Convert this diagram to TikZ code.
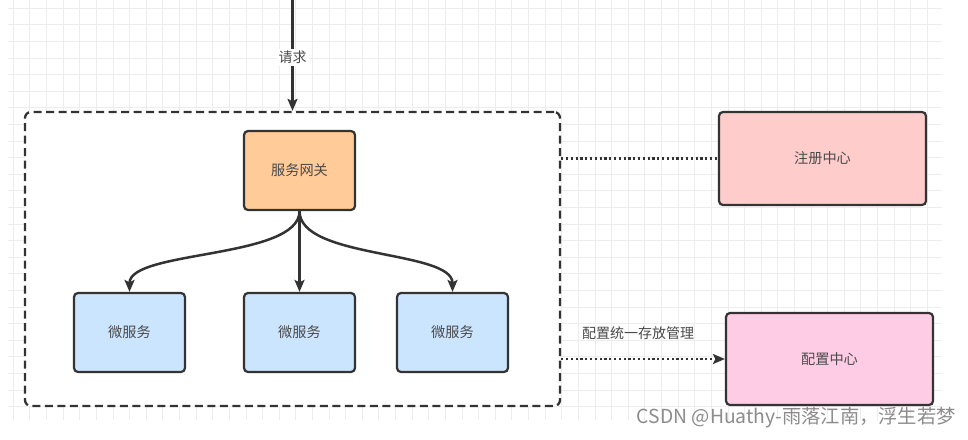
\documentclass[tikz,border=0pt]{standalone}
\usepackage{fontspec}
\setmainfont{Noto Sans CJK SC}
\usetikzlibrary{arrows.meta}
\definecolor{gridc}{HTML}{EDEDED}
\definecolor{edgec}{HTML}{333333}
\definecolor{txtc}{HTML}{4A4A4A}
\definecolor{gwfill}{HTML}{FFCC99}
\definecolor{msfill}{HTML}{CCE5FF}
\definecolor{regfill}{HTML}{FFCCCC}
\definecolor{cfgfill}{HTML}{FFCCE6}
\definecolor{wmc}{HTML}{8C8C8C}
\begin{document}
\begin{tikzpicture}[x=1pt,y=-1pt,
  box/.style={draw=edgec,line width=2.2pt,rounded corners=4pt,inner sep=0pt,
    text=txtc,font=\fontsize{14.2}{16}\selectfont},
  gwbox/.style={box,fill=gwfill,minimum width=111pt,minimum height=79pt},
  msbox/.style={box,fill=msfill,minimum width=111pt,minimum height=79pt},
  bigbox/.style={box,minimum width=207pt,minimum height=93pt},
  conn/.style={draw=edgec,line width=2.5pt,-{Stealth[length=12pt,width=10pt,inset=2.5pt]}},
  dotconn/.style={draw=edgec,line width=2.4pt,dash pattern=on 2.2pt off 2.6pt},
  lbl/.style={text=txtc,font=\fontsize{14}{16}\selectfont,inner sep=2pt}]
\useasboundingbox (0,0) rectangle (968,439);
\fill[white] (0,0) rectangle (968,439);
% grid
\foreach \i in {0,...,55} {\draw[gridc,line width=0.9pt] ({13.3+\i*16.62},0) -- ({13.3+\i*16.62},420);}
\foreach \j in {0,...,24} {\draw[gridc,line width=0.9pt] (8,{8.3+\j*16.6}) -- (942,{8.3+\j*16.6});}
% container
\node[draw=edgec,fill=white,line width=2.3pt,dash pattern=on 8pt off 4.5pt,rounded corners=6pt,
  minimum width=535pt,minimum height=294pt,inner sep=0pt] (cont) at (292.5,259) {};
\coordinate (top) at (292.5,0);
\node[gwbox] (gw) at (299.5,170.5) {服务网关};
\node[msbox] (ms1) at (129.5,332.5) {微服务};
\node[msbox] (ms2) at (299.5,332.5) {微服务};
\node[msbox] (ms3) at (452.5,332.5) {微服务};
\node[bigbox,fill=regfill] (reg) at (822.5,158.5) {注册中心};
\node[bigbox,fill=cfgfill,minimum height=92pt] (cfg) at (829.5,359) {配置中心};
% connectors
\draw[conn] (top) -- node[lbl,fill=white,pos=0.52] {请求} (cont.north);
\draw[conn] (gw.south) .. controls +(0,48) and +(0,-42) .. (ms1.north);
\draw[conn] (gw.south) -- (ms2.north);
\draw[conn] (gw.south) .. controls +(0,48) and +(0,-42) .. (ms3.north);
\draw[dotconn] (cont.east |- reg.west) -- (reg.west);
\draw[dotconn,-{Stealth[length=12pt,width=10pt,inset=2.5pt]}] (cont.east |- cfg.west) -- (cfg.west);
\node[lbl,anchor=south west] (cfglbl) at (580,342) {配置统一存放管理};
% watermark
\node[text=wmc,font=\fontsize{19.3}{21}\selectfont,anchor=east,inner sep=0pt] (wm) at (956,418) {CSDN @Huathy-雨落江南，浮生若梦};
\end{tikzpicture}
\end{document}
